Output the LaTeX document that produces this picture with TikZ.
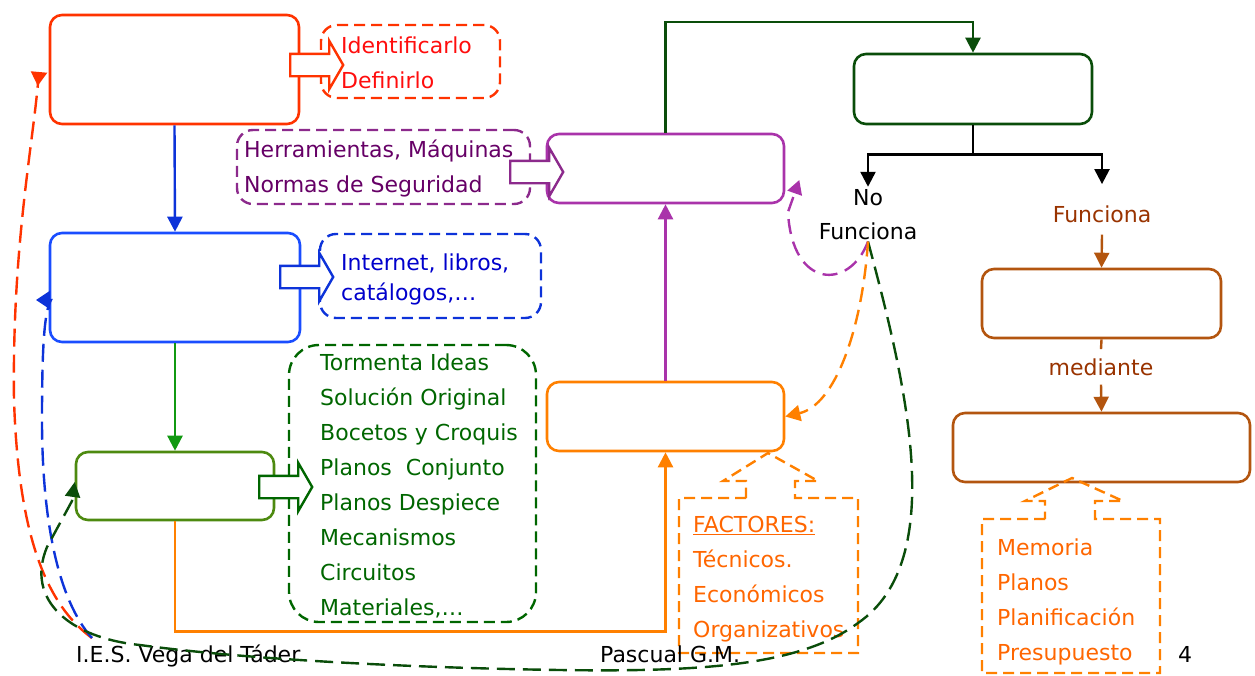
\documentclass[tikz,border=0pt]{standalone}
\usepackage{fontspec}
\setmainfont{DejaVu Sans}
\usetikzlibrary{arrows.meta,shapes.arrows,calc}

\definecolor{rojo}{HTML}{FF3300}
\definecolor{rojotxt}{HTML}{FF0D0D}
\definecolor{azul}{HTML}{1A4DFF}
\definecolor{azulosc}{HTML}{0D33D9}
\definecolor{azultxt}{HTML}{0000CC}
\definecolor{verde}{HTML}{119911}
\definecolor{oliva}{HTML}{4D8A10}
\definecolor{verdetxt}{HTML}{006600}
\definecolor{verdeosc}{HTML}{0A4D0A}
\definecolor{morado}{HTML}{A933AA}
\definecolor{moradonota}{HTML}{8C2A8C}
\definecolor{moradotxt}{HTML}{660066}
\definecolor{naranja}{HTML}{FF8000}
\definecolor{naranjatxt}{HTML}{FF6600}
\definecolor{marron}{HTML}{B3550F}
\definecolor{marrontxt}{HTML}{993300}

\tikzset{
    caja/.style={draw,rounded corners=12pt,line width=2.6pt},
    nota/.style={draw,rounded corners=16pt,line width=2.4pt,dash pattern=on 11pt off 6pt},
    bloque/.style={single arrow,draw,fill=white,line width=2.4pt,anchor=tail,
        inner xsep=0pt,inner ysep=10pt,minimum height=53pt,
        single arrow head extend=13pt,single arrow tip angle=120},
    texto/.style={font=\fontsize{22}{26}\selectfont,inner sep=2pt},
    lista/.style={texto,anchor=base west},
    flecha/.style={line width=2.4pt,-{Triangle[length=15pt,width=15pt]}},
    curva/.style={line width=2.4pt,dash pattern=on 18pt off 8pt},
}

\begin{document}
\begin{tikzpicture}[x=1pt,y=-1pt]
    \useasboundingbox (0,0) rectangle (1255,675);
    %% Cajas
    \node[caja,draw=rojo,minimum width=249pt,minimum height=109pt] (problema) at (174.5,69.5) {};
    \node[caja,draw=azul,minimum width=250pt,minimum height=109pt] (informacion) at (175,287.5) {};
    \node[caja,draw=oliva,minimum width=198pt,minimum height=68pt] (diseno) at (175,486) {};
    \node[caja,draw=morado,minimum width=237pt,minimum height=69pt] (construccion) at (665.5,168.5) {};
    \node[caja,draw=naranja,minimum width=237pt,minimum height=69pt] (planificacion) at (665.5,416.5) {};
    \node[caja,draw=verdeosc,minimum width=238pt,minimum height=70pt] (evaluacion) at (973,89) {};
    \node[caja,draw=marron,minimum width=239pt,minimum height=69pt] (presentacion) at (1101.5,303.5) {};
    \node[caja,draw=marron,minimum width=297pt,minimum height=69pt] (documentacion) at (1101.5,447.5) {};

    %% Notas
    \node[nota,draw=rojo,minimum width=179pt,minimum height=73pt] (notaRoja) at (410.5,61.5) {};
    \node[nota,draw=azulosc,minimum width=221pt,minimum height=84pt] (notaAzul) at (430.5,276) {};
    \node[nota,draw=moradonota,minimum width=293pt,minimum height=74pt] (notaMorada) at (383.5,167) {};
    \node[nota,draw=verdetxt,rounded corners=30pt,minimum width=247pt,minimum height=277pt] (notaVerde) at (412.5,483.5) {};
    \draw[nota,draw=naranja,sharp corners] (746,498) -| (679,653) -| (858,498) -- (795,498)
        -- (795,481) -- (818,481) -- (768,453) -- (723,481) -- (746,481) -- cycle;
    \draw[nota,draw=naranja,sharp corners] (1045,519) -| (982,673) -| (1160,519) -- (1095,519)
        -- (1095,501) -- (1123,501) -- (1072,478) -- (1025,501) -- (1045,501) -- cycle;

    %% Flechas gruesas
    \node[bloque,draw=rojo] (flechaRoja) at (289,65) {};
    \node[bloque,draw=azulosc] (flechaAzul) at (279,277) {};
    \node[bloque,draw=verdetxt] (flechaVerde) at (258,487) {};
    \node[bloque,draw=moradonota] (flechaMorada) at (509,172) {};

    %% Textos
    \foreach \linea [count=\i] in {Identificarlo,Definirlo}
        \node[lista,text=rojotxt] (rojo-\i) at (339,18+35*\i) {\linea};
    \foreach \linea [count=\i] in {{Internet, libros,},{catálogos,…}}
        \node[lista,text=azultxt] (azul-\i) at (339,240+30*\i) {\linea};
    \foreach \linea [count=\i] in {{Herramientas, Máquinas},{Normas de Seguridad}}
        \node[lista,text=moradotxt] (morado-\i) at (242,122+35*\i) {\linea};
    \foreach \linea [count=\i] in {Tormenta Ideas,Solución Original,Bocetos y Croquis,
            Planos~~Conjunto,Planos Despiece,Mecanismos,Circuitos,{Materiales,…}}
        \node[lista,text=verdetxt] (verde-\i) at (318,335+35*\i) {\linea};
    \foreach \linea [count=\i] in {\underline{FACTORES:},Técnicos.,Económicos,Organizativos}
        \node[lista,text=naranjatxt] (factor-\i) at (691,497+35*\i) {\linea};
    \foreach \linea [count=\i] in {Memoria,Planos,Planificación,Presupuesto}
        \node[lista,text=naranjatxt] (doc-\i) at (995,520+35*\i) {\linea};
    \node[texto,anchor=base] (no) at (868,205) {No};
    \node[texto,anchor=base] (nofunciona) at (868,239) {Funciona};
    \node[texto,anchor=base,text=marrontxt] (funciona) at (1102,222) {Funciona};
    \node[texto,anchor=base,text=marrontxt] (mediante) at (1101,375) {mediante};
    \node[lista] (pie) at (74,662) {I.E.S. Vega del Táder};
    \node[lista] (autor) at (598,662) {Pascual G.M.};
    \node[lista] (pagina) at (1176,662) {4};

    %% Conexiones
    \draw[flecha,draw=azulosc] (problema.south) -- (informacion.north);
    \draw[flecha,draw=verde] (informacion.south) -- (diseno.north);
    \draw[flecha,draw=naranja] (diseno.south) -- ++(0,110) -| (planificacion.south);
    \draw[flecha,draw=morado] (planificacion.north) -- (construccion.south);
    \draw[flecha,draw=verdeosc] (construccion.north) -- ++(0,-111) -| (evaluacion.north);
    \draw[line width=2.4pt] (evaluacion.south) -- ++(0,29) coordinate (reparto);
    \draw[flecha] (reparto) -| (no.north);
    \draw[flecha] (reparto) -| ([yshift=19pt]funciona.north);
    \draw[flecha,draw=marron] ([yshift=-10pt]funciona.south) -- (presentacion.north);
    \draw[line width=2.4pt,draw=marron] (presentacion.south) -- ([yshift=7pt]mediante.north);
    \draw[flecha,draw=marron] ([yshift=-7pt]mediante.south) -- (documentacion.north);

    %% Vueltas atras
    \coordinate (esquina) at (92,638);
    \draw[curva,draw=rojo,-{Triangle[reversed,length=14pt,width=16pt]}] (esquina)
        .. controls (40,600) and (18,520) .. (14,400)
        .. controls (12,250) and (32,150) .. (39,72);
    \draw[curva,draw=azulosc,-{Triangle[length=14pt,width=18pt]}] (esquina)
        .. controls (58,600) and (42,520) .. (42,420)
        .. controls (42,350) and (44,312) .. (51,300) -- ++(-15,0);
    \draw[curva,draw=verdeosc,-{Triangle[length=15pt,width=15pt]}] (nofunciona.south)
        .. controls (905,380) and (950,560) .. (858,623)
        .. controls (800,666) and (700,672) .. (560,670)
        .. controls (420,668) and (250,660) .. (140,645)
        .. controls (70,638) and (25,600) .. (47,547)
        -- (72,501) -- ($(diseno.west)+(0,-4)$);
    \draw[curva,draw=morado,dash pattern=on 15pt off 8pt,-{Triangle[length=14pt,width=15pt]}] (nofunciona.south)
        .. controls (850,290) and (792,290) .. (788,212) -- ($(construccion.east)+(14,11.5)$);
    \draw[curva,draw=naranja,dash pattern=on 15pt off 8pt,-{Triangle[length=15pt,width=16pt]}] (nofunciona.south)
        .. controls (862,330) and (835,405) .. (planificacion.east);
\end{tikzpicture}
\end{document}
